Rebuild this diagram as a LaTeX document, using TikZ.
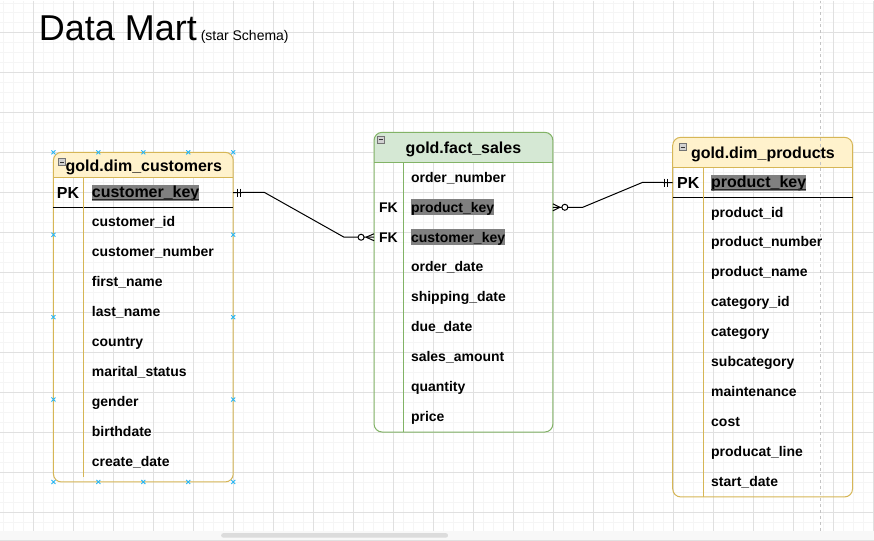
\documentclass[tikz,border=0pt]{standalone}
\usepackage{fontspec}
\setmainfont{Liberation Sans}
\definecolor{yhead}{HTML}{FFF2CC}
\definecolor{yline}{HTML}{D6B656}
\definecolor{ghead}{HTML}{D5E8D4}
\definecolor{gline}{HTML}{82B366}
\definecolor{gridmin}{HTML}{F5F5F5}
\definecolor{gridmaj}{HTML}{E0E0E0}
\definecolor{selblue}{HTML}{29B6F2}
\definecolor{hilite}{HTML}{808080}
\definecolor{pagebrk}{HTML}{C4C4C4}
\definecolor{botarea}{HTML}{F8F8F8}
\definecolor{scrollc}{HTML}{DCDCDC}
\begin{document}
\begin{tikzpicture}[x=1pt,y=-1pt,
  every node/.style={inner sep=0pt, outer sep=0pt},
  tbl/.style={draw=#1, rounded corners=8pt, line width=1pt, minimum width=180pt},
  headtxt/.style={font=\fontsize{16}{18}\selectfont\bfseries, text height=11.5pt, text depth=0pt},
  field/.style={anchor=west, font=\fontsize{14}{16}\selectfont\bfseries, text height=11pt, text depth=1.5pt},
  keytag/.style={anchor=west, font=\fontsize{16}{18}\selectfont\bfseries, text height=11.5pt, text depth=0pt},
  fktag/.style={anchor=west, font=\fontsize{14}{16}\selectfont\bfseries, text height=10pt, text depth=0pt},
  pkkey/.style={anchor=west, fill=hilite, font=\fontsize{16}{18}\selectfont\bfseries, text height=12.5pt, text depth=3.5pt},
  fkkey/.style={anchor=west, fill=hilite, font=\fontsize{14}{16}\selectfont\bfseries, text height=13pt, text depth=3pt},
  uline/.style={line width=1.2pt, black!85},
  conn/.style={line width=1pt, black},
  selmark/.style={selblue, line width=0.9pt},
  collapse/.style={fill=black!18, draw=black!55, line width=0.6pt},
]
% canvas
\fill[white] (0,0) rectangle (874,541);
\foreach \x in {3.5,13.5,...,873.5} \draw[gridmin, line width=1pt] (\x,0) -- (\x,531);
\foreach \y in {2.5,12.5,...,522.5} \draw[gridmin, line width=1pt] (0,\y) -- (874,\y);
\foreach \x in {33.5,73.5,...,873.5} \draw[gridmaj, line width=1pt] (\x,0) -- (\x,531);
\foreach \y in {32.5,72.5,...,512.5} \draw[gridmaj, line width=1pt] (0,\y) -- (874,\y);
\fill[botarea] (0,531) rectangle (874,541);
\fill[scrollc, rounded corners=2pt] (221,533.3) rectangle (448,537.7);
\draw[gridmaj] (0,540.5) -- (874,540.5);

% title
\node[anchor=base west, font=\fontsize{36}{40}\selectfont] (title) at (38.5,40.5) {Data Mart};
\node[anchor=base west, font=\fontsize{14}{16}\selectfont] (subtitle) at ([xshift=4pt]title.base east) {(star Schema)};

% header fills
\begin{scope}
  \clip[rounded corners=8pt] (53,152) rectangle (233,482);
  \fill[yhead] (53,152) rectangle (233,177);
\end{scope}
\begin{scope}
  \clip[rounded corners=8pt] (374,132) rectangle (553,432);
  \fill[ghead] (374,132) rectangle (553,162);
\end{scope}
\begin{scope}
  \clip[rounded corners=8pt] (673,137) rectangle (853,497);
  \fill[yhead] (673,137) rectangle (853,167);
\end{scope}

% page break line
\draw[pagebrk, line width=1pt, dash pattern=on 3pt off 3pt] (820.5,0) -- (820.5,531);

% ---------- gold.dim_customers ----------
\node[tbl=yline, minimum height=330pt] (cust) at (143,317) {};
\draw[yline, line width=1pt] (53,177) -- (233,177);
\draw[black, line width=1.2pt] (53,207) -- (233,207);
\draw[yline, line width=1pt] (83,177) -- (83,477);
\draw[collapse] (58.3,158.3) rectangle (65.3,165.3);
\draw[black!80, line width=0.8pt] (59.8,161.8) -- (63.8,161.8);
\node[headtxt] (custh) at (143.5,165.5) {gold.dim\_customers};
\node[keytag] (custpkl) at (56.5,192) {PK};
\node[pkkey] (custpk) at (91.5,192.3) {customer\_key};
\draw[uline] ([yshift=-2.3pt]custpk.base west) -- ([yshift=-2.3pt]custpk.base east);
\node[field] (c1) at (91.5,222) {customer\_id};
\node[field] (c2) at (91.5,252) {customer\_number};
\node[field] (c3) at (91.5,282) {first\_name};
\node[field] (c4) at (91.5,312) {last\_name};
\node[field] (c5) at (91.5,342) {country};
\node[field] (c6) at (91.5,372) {marital\_status};
\node[field] (c7) at (91.5,402) {gender};
\node[field] (c8) at (91.5,432) {birthdate};
\node[field] (c9) at (91.5,462) {create\_date};
% selection markers
\foreach \mx/\my in {53/152,98/152,143/152,188/152,233/152,53/482,98/482,143/482,188/482,233/482,53/234.5,53/317,53/399.5,233/234.5,233/317,233/399.5}
  \draw[selmark] (\mx-2,\my-2) -- (\mx+2,\my+2) (\mx-2,\my+2) -- (\mx+2,\my-2);

% ---------- gold.fact_sales ----------
\node[tbl=gline, minimum width=179pt, minimum height=300pt] (fact) at (463.5,282) {};
\draw[gline, line width=1pt] (374,162) -- (553,162);
\draw[gline, line width=1pt] (403.5,162) -- (403.5,432);
\draw[collapse] (377,136) rectangle (384,143);
\draw[black!80, line width=0.8pt] (378.5,139.5) -- (382.5,139.5);
\node[headtxt] (facth) at (463.5,147.5) {gold.fact\_sales};
\node[field] (f1) at (411,177) {order\_number};
\node[fktag] (ffk1) at (379,207) {FK};
\node[fkkey] (fpk) at (411,207) {product\_key};
\node[fktag] (ffk2) at (379,237) {FK};
\node[fkkey] (fck) at (411,237) {customer\_key};
\node[field] (f4) at (411,267) {order\_date};
\node[field] (f5) at (411,297) {shipping\_date};
\node[field] (f6) at (411,327) {due\_date};
\node[field] (f7) at (411,357) {sales\_amount};
\node[field] (f8) at (411,387) {quantity};
\node[field] (f9) at (411,417) {price};

% ---------- gold.dim_products ----------
\node[tbl=yline, minimum height=360pt] (prod) at (763,317) {};
\draw[yline, line width=1pt] (673,167) -- (853,167);
\draw[black, line width=1.2pt] (673,197) -- (853,197);
\draw[yline, line width=1pt] (703.5,167) -- (703.5,497);
\draw[collapse] (679.3,143.3) rectangle (686.3,150.3);
\draw[black!80, line width=0.8pt] (680.8,146.8) -- (684.8,146.8);
\node[headtxt] (prodh) at (763.3,152.5) {gold.dim\_products};
\node[keytag] (prodpkl) at (677.5,182) {PK};
\node[pkkey] (prodpk) at (711.5,182.3) {product\_key};
\draw[uline] ([yshift=-2.3pt]prodpk.base west) -- ([yshift=-2.3pt]prodpk.base east);
\node[field] (p1) at (711.5,212) {product\_id};
\node[field] (p2) at (711.5,242) {product\_number};
\node[field] (p3) at (711.5,272) {product\_name};
\node[field] (p4) at (711.5,302) {category\_id};
\node[field] (p5) at (711.5,332) {category};
\node[field] (p6) at (711.5,362) {subcategory};
\node[field] (p7) at (711.5,392) {maintenance};
\node[field] (p8) at (711.5,422) {cost};
\node[field] (p9) at (711.5,452) {producat\_line};
\node[field] (p10) at (711.5,482) {start\_date};

% ---------- connectors ----------
\coordinate (e1) at (cust.east |- custpk);
\coordinate (e2) at (fact.west |- fck);
\coordinate (k1) at (264,192);
\coordinate (k2) at (344,237);
\draw[conn] (e1) -- (k1) -- (k2) -- (e2);
\draw[conn] (e1) ++(4,-4) -- ++(0,8);
\draw[conn] (e1) ++(7,-4) -- ++(0,8);
\draw[conn] (e2) ++(-8,0) -- ++(8,-3.5);
\draw[conn] (e2) ++(-8,0) -- ++(8,3.5);
\draw[conn, fill=white] (e2) ++(-13,0) circle[radius=3pt];

\coordinate (e3) at (fact.east |- fpk);
\coordinate (e4) at (prod.west |- prodpk);
\coordinate (k3) at (583,207);
\coordinate (k4) at (643,182);
\draw[conn] (e3) -- (k3) -- (k4) -- (e4);
\draw[conn] (e3) ++(7,0) -- ++(-7,-3.5);
\draw[conn] (e3) ++(7,0) -- ++(-7,3.5);
\draw[conn, fill=white] (e3) ++(12,0) circle[radius=3pt];
\draw[conn] (e4) ++(-8,-4) -- ++(0,8);
\draw[conn] (e4) ++(-5,-4) -- ++(0,8);

\useasboundingbox (0,0) rectangle (874,541);
\end{tikzpicture}
\end{document}
